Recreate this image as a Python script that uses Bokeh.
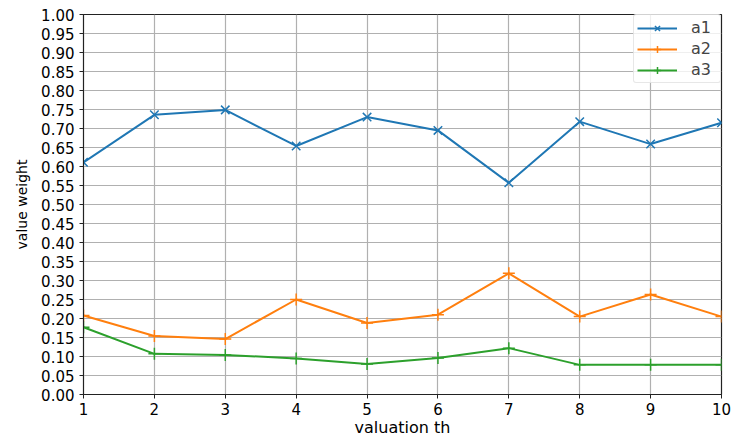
from bokeh.plotting import figure
from bokeh.models import Range1d, FixedTicker, PrintfTickFormatter, Legend
from bokeh.embed import file_html
from bokeh.resources import INLINE

# Data
x_vals = [1, 2, 3, 4, 5, 6, 7, 8, 9, 10]
a1 = [0.611, 0.736, 0.749, 0.654, 0.730, 0.695, 0.557, 0.718, 0.659, 0.715]
a2 = [0.208, 0.154, 0.146, 0.250, 0.188, 0.210, 0.319, 0.205, 0.263, 0.205]
a3 = [0.177, 0.107, 0.104, 0.095, 0.080, 0.096, 0.122, 0.078, 0.078, 0.078]
series_names = ["a1", "a2", "a3"]
x_ticks = [1, 2, 3, 4, 5, 6, 7, 8, 9, 10]
y_ticks = [0.00, 0.05, 0.10, 0.15, 0.20, 0.25, 0.30, 0.35, 0.40, 0.45, 0.50,
           0.55, 0.60, 0.65, 0.70, 0.75, 0.80, 0.85, 0.90, 0.95, 1.00]

colors = ["#1f77b4", "#ff7f0e", "#2ca02c"]
FONT = "DejaVu Sans"

p = figure(width=732, height=440, output_backend="svg", toolbar_location=None,
           x_range=Range1d(1, 10), y_range=Range1d(0, 1),
           min_border_left=83, min_border_right=11, min_border_top=14, min_border_bottom=46)

p.background_fill_color = "white"
p.border_fill_color = "white"
p.outline_line_color = "#222222"
p.outline_line_width = 1.2

for ax in (p.xaxis[0], p.yaxis[0]):
    ax.major_label_text_font = FONT
    ax.axis_label_text_font = FONT
    ax.axis_label_text_font_style = "normal"
    ax.major_label_text_color = "black"
    ax.axis_label_text_color = "black"
    ax.axis_line_color = "#222222"
    ax.major_tick_line_color = "#222222"
    ax.major_tick_out = 4
    ax.major_tick_in = 0
    ax.minor_tick_line_color = None

p.xaxis.ticker = FixedTicker(ticks=x_ticks)
p.yaxis.ticker = FixedTicker(ticks=y_ticks)
p.yaxis.formatter = PrintfTickFormatter(format="%.2f")
p.xaxis.major_label_text_font_size = "15px"
p.yaxis.major_label_text_font_size = "15px"
p.xaxis.major_label_standoff = 4
p.yaxis.major_label_standoff = 5
p.xaxis.axis_label = "valuation th"
p.yaxis.axis_label = "value weight"
p.xaxis.axis_label_text_font_size = "16px"
p.yaxis.axis_label_text_font_size = "14px"
p.xaxis.axis_label_standoff = 0
p.yaxis.axis_label_standoff = 8

p.xgrid.ticker = FixedTicker(ticks=x_ticks)
p.ygrid.ticker = FixedTicker(ticks=y_ticks)
p.grid.grid_line_color = "#b0b0b0"
p.grid.grid_line_width = 1.2

items = []
for name, ys, col, mk in zip(series_names, [a1, a2, a3], colors, ["x", "cross", "cross"]):
    r1 = p.line(x_vals, ys, line_color=col, line_width=2)
    r2 = p.scatter(x_vals, ys, marker=mk, size=12, line_color=col, line_width=1.5)
    items.append((name, [r1, r2]))

legend = Legend(items=items, location="top_right")
legend.label_text_font = FONT
legend.label_text_font_size = "16px"
legend.label_height = 18
legend.glyph_height = 18
legend.label_width = 26
legend.background_fill_alpha = 0.8
legend.border_line_color = "#d0d0d0"
legend.border_line_width = 1
legend.margin = 0
legend.padding = 3
legend.spacing = 2
legend.glyph_width = 40
legend.label_standoff = 14
legend.border_radius = 3
p.add_layout(legend)

open("out.html", "w").write(file_html(p, INLINE))
